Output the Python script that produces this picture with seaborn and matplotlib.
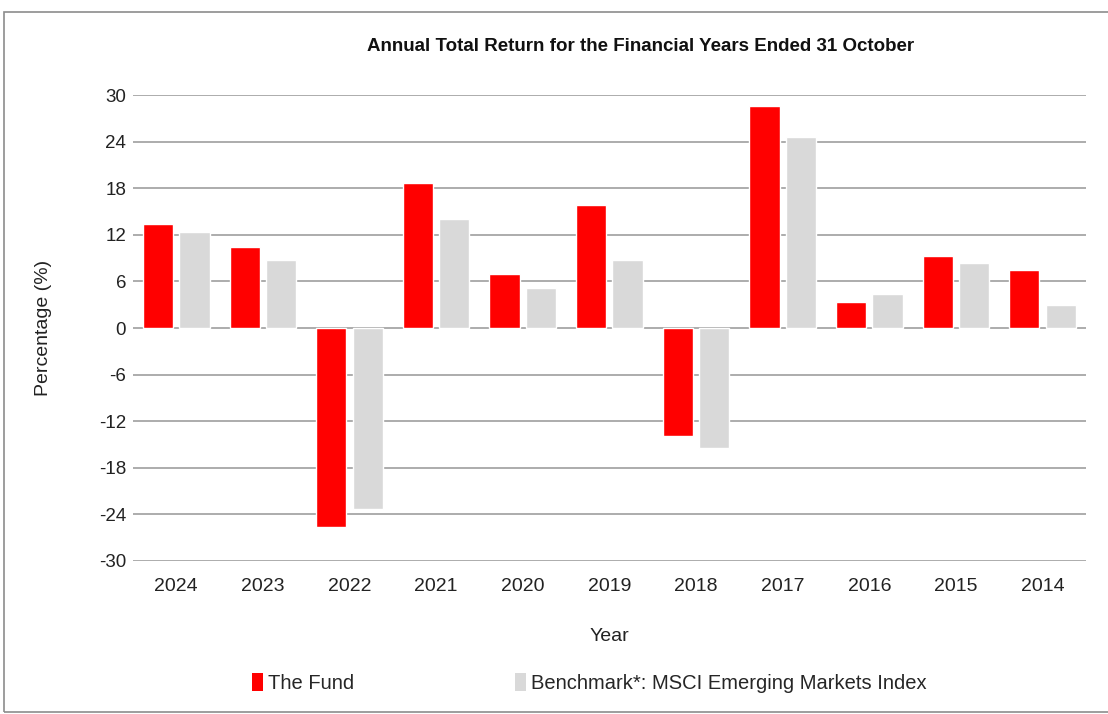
import matplotlib
matplotlib.use("Agg")
import matplotlib.pyplot as plt
from matplotlib.patches import Rectangle, Patch
import seaborn as sns
import pandas as pd

years = ["2024", "2023", "2022", "2021", "2020", "2019", "2018", "2017", "2016", "2015", "2014"]
fund = [13.4, 10.4, -25.6, 18.7, 7.0, 15.8, -13.9, 28.6, 3.4, 9.3, 7.5]
benchmark = [12.3, 8.7, -23.3, 14.1, 5.1, 8.8, -15.5, 24.6, 4.4, 8.4, 2.9]
series_names = ["The Fund", "Benchmark*: MSCI Emerging Markets Index"]
colors = ["#FF0000", "#D9D9D9"]

df = pd.DataFrame({
    "Year": years * 2,
    "Return": fund + benchmark,
    "Series": [series_names[0]] * len(years) + [series_names[1]] * len(years),
})

sns.set_theme(style="white")
plt.rcParams["font.family"] = ["Liberation Sans", "DejaVu Sans"]
plt.rcParams["axes.unicode_minus"] = False

fig = plt.figure(figsize=(11.08, 7.14), dpi=100)
ax = fig.add_axes([0.120, 0.2143, 0.860, 0.6526])

sns.barplot(data=df, x="Year", y="Return", hue="Series", order=years,
            hue_order=series_names, palette=colors, width=0.84, gap=0.17,
            saturation=1, ax=ax, legend=False, zorder=3)

ax.set_ylim(-30, 30)
ax.set_yticks(range(-30, 31, 6))
ax.set_xlim(-0.5, len(years) - 0.5)
ax.yaxis.grid(True, color="#A6A6A6", linewidth=1.3, zorder=0)
ax.set_axisbelow(True)
for s in ax.spines.values():
    s.set_visible(False)
ax.tick_params(axis="both", length=0, colors="#222222")
ax.tick_params(axis="y", pad=5, labelsize=13.5)
ax.tick_params(axis="x", pad=12, labelsize=14)
ax.set_xlabel("Year", fontsize=14, color="#222222", labelpad=24)
ax.set_ylabel("Percentage (%)", fontsize=14, color="#222222", labelpad=34)

fig.text(0.578, 0.935, "Annual Total Return for the Financial Years Ended 31 October",
         ha="center", va="center", fontsize=13.5, fontweight="bold",
         family=["Liberation Sans Narrow", "Liberation Sans"], color="#111111")

handles = [Patch(facecolor=c, edgecolor="none") for c in colors]
fig.legend(handles, series_names, loc="center", bbox_to_anchor=(0.532, 0.044),
           ncol=2, frameon=False, handlelength=0.55, handleheight=1.0,
           handletextpad=0.25, columnspacing=8.0,
           prop={"family": ["Liberation Sans Narrow", "Liberation Sans"], "size": 14.5})

# outer chart border
fig.patches.append(Rectangle((0.004, 0.003), 1.2, 0.98, transform=fig.transFigure,
                             fill=False, edgecolor="#8C8C8C", linewidth=1.2))

fig.savefig("out.png", dpi=100)
